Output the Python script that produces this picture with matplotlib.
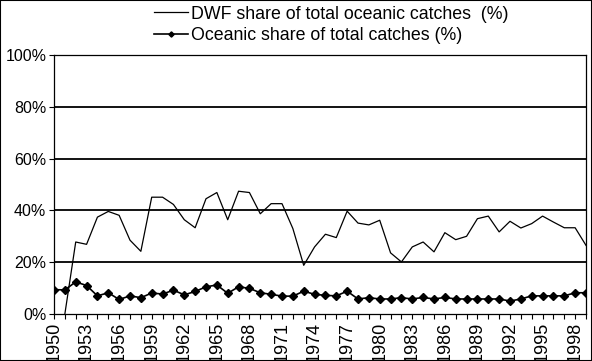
import numpy as np
import matplotlib
matplotlib.use("Agg")
import matplotlib.pyplot as plt
from matplotlib.patches import Rectangle
from matplotlib.ticker import FuncFormatter

plt.rcParams['font.family'] = ['Liberation Sans', 'DejaVu Sans']

years = list(range(1950, 2000))
dwf_share = [np.nan, 0.0, 27.8, 26.9, 37.4, 39.6, 38.1, 28.5, 24.2, 45.1,
             45.1, 42.3, 36.4, 33.3, 44.5, 46.9, 36.4, 47.4, 46.9, 38.7,
             42.6, 42.6, 33.0, 18.8, 25.9, 30.8, 29.5, 39.7, 35.1, 34.4,
             36.2, 23.6, 20.1, 25.9, 27.8, 24.0, 31.4, 28.7, 30.0, 36.8,
             37.8, 31.7, 35.8, 33.2, 34.9, 37.8, 35.5, 33.3, 33.3, 26.5]
oceanic_share = [9.4, 9.3, 12.4, 11.0, 7.0, 8.2, 5.6, 7.0, 6.3, 8.1,
                 7.7, 9.2, 7.4, 8.7, 10.5, 11.2, 8.0, 10.5, 9.9, 8.2,
                 7.6, 6.9, 6.9, 8.8, 7.6, 7.2, 7.0, 8.8, 5.8, 6.3,
                 5.8, 5.8, 6.3, 5.8, 6.4, 5.8, 6.4, 5.8, 5.8, 5.8,
                 5.8, 5.8, 5.0, 5.8, 7.0, 7.0, 7.0, 7.0, 8.2, 8.2]
labels = ["DWF share of total oceanic catches  (%)",
          "Oceanic share of total catches (%)"]
yticks = [0, 20, 40, 60, 80, 100]

fig = plt.figure(figsize=(5.92, 3.61), dpi=100)
ax = fig.add_axes([54/592, 1-314/361, (586-54)/592, (314-55)/361])

for y in yticks[1:-1]:
    ax.axhline(y, color='black', lw=1.3, zorder=1)

l1, = ax.plot(years, dwf_share, color='black', lw=0.9, zorder=3)
l2, = ax.plot(years, oceanic_share, color='black', lw=1.2, marker='D',
              markersize=3.8, zorder=3)

ax.set_xlim(years[0], years[-1])
ax.set_ylim(0, 100)
ax.set_yticks(yticks)
ax.yaxis.set_major_formatter(FuncFormatter(lambda v, p: f"{int(v)}%"))
ax.set_xticks(years)
ax.set_xticklabels([str(y) if (y - 1950) % 3 == 0 else "" for y in years],
                   rotation=90)
ax.tick_params(axis='both', direction='out', length=3.5, width=0.8,
               colors='black')
ax.tick_params(axis='y', labelsize=11.5, pad=2)
ax.tick_params(axis='x', labelsize=13, pad=2)
for s in ax.spines.values():
    s.set_color('black')
    s.set_linewidth(0.9)

fig.legend([l1, l2], labels, loc='upper left',
           bbox_to_anchor=(143/592, 1.0 + 5/361), frameon=False,
           fontsize=12.8, handlelength=1.95, handletextpad=0.15,
           labelspacing=0.25, borderpad=0.1, markerscale=0.7)

fig.patches.append(Rectangle((0, 0), 1, 1, transform=fig.transFigure,
                             fill=False, ec='black', lw=1.5))
fig.savefig("out.png", dpi=100)
